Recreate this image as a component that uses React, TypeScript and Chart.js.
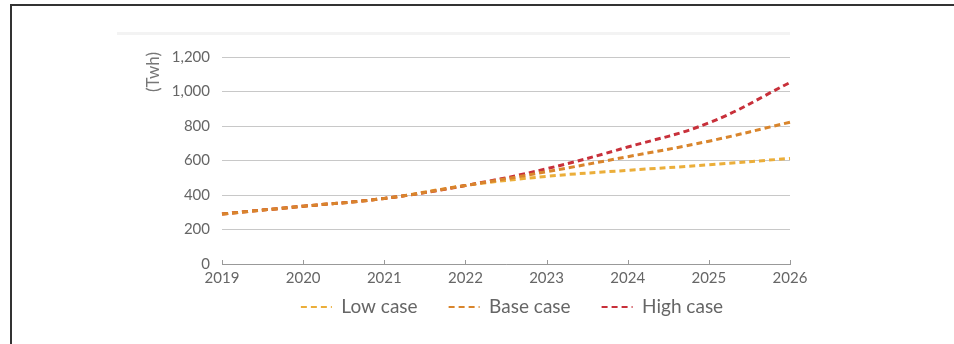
import React, { useEffect, useRef } from "react";
import { Chart, registerables } from "chart.js";

Chart.register(...registerables);

const years = ["2019", "2020", "2021", "2022", "2023", "2024", "2025", "2026"];
const lowCase = [290, 335, 380, 455, 508, 543, 575, 612];
const baseCase = [290, 335, 380, 455, 535, 622, 712, 822];
const highCase = [290, 335, 380, 455, 552, 678, 818, 1052];
const seriesNames = ["Low case", "Base case", "High case"];
const seriesColors = ["#EBAE3A", "#D9852C", "#C8303A"];
const seriesOrder = [2, 0, 1];
const yTitle = "(Twh)";

const FONT = "Lato, 'Noto Sans', sans-serif";
const LEGEND_PAD = 31;
const LEGEND_FONT = 19;

const extrasPlugin = {
  id: "extras",
  afterLayout(chart: any) {
    const lg = chart.legend;
    if (lg) {
      const top = 307 - LEGEND_PAD - LEGEND_FONT / 2;
      const h = LEGEND_PAD * 2 + LEGEND_FONT;
      lg.top = top;
      lg.height = h;
      lg.bottom = top + h;
      lg.left += 6;
      lg.right += 6;
    }
  },
  beforeDraw(chart: any) {
    const ctx = chart.ctx;
    const area = chart.chartArea;
    ctx.save();
    ctx.fillStyle = "#f3f3f3";
    ctx.fillRect(117, 32, area.right - 117, 3);
    ctx.restore();
  },
  afterDraw(chart: any) {
    const ctx = chart.ctx;
    const x = chart.scales.x;
    const y = chart.scales.y;
    ctx.save();
    ctx.strokeStyle = "#999";
    ctx.lineWidth = 1;
    const y0 = y.getPixelForValue(0);
    for (let i = 0; i < years.length; i++) {
      const px = Math.round(x.getPixelForValue(i)) + 0.5;
      ctx.beginPath();
      ctx.moveTo(px, y0);
      ctx.lineTo(px, y0 - 4);
      ctx.stroke();
    }
    ctx.translate(154, 72);
    ctx.rotate(-Math.PI / 2);
    ctx.fillStyle = "#777";
    ctx.font = "17px " + FONT;
    ctx.textAlign = "center";
    ctx.textBaseline = "middle";
    ctx.fillText(yTitle, 0, 0);
    ctx.restore();
  },
};

export default function App() {
  const ref = useRef<HTMLCanvasElement | null>(null);
  useEffect(() => {
    if (!ref.current) return;
    const data = [lowCase, baseCase, highCase];
    const chart = new Chart(ref.current, {
      type: "line",
      data: {
        labels: years,
        datasets: data.map((d, i) => ({
          label: seriesNames[i],
          data: d,
          borderColor: seriesColors[i],
          backgroundColor: seriesColors[i],
          borderWidth: 3,
          borderDash: [6, 4],
          pointRadius: 0,
          tension: 0.4,
          fill: false,
          order: seriesOrder[i],
        })),
      },
      options: {
        animation: false,
        responsive: false,
        layout: { padding: { top: 57, right: 164, bottom: 19, left: 0 } },
        plugins: {
          tooltip: { enabled: false },
          legend: {
            position: "bottom",
            fullSize: false,
            maxHeight: 36,
            labels: {
              sort: (a: any, b: any) => a.datasetIndex - b.datasetIndex,
              usePointStyle: true,
              pointStyle: "line",
              pointStyleWidth: 31,
              boxHeight: 16,
              padding: LEGEND_PAD,
              color: "#666",
              font: { family: FONT, size: LEGEND_FONT },
              generateLabels: () =>
                seriesNames.map((n, i) => ({
                  text: n,
                  datasetIndex: i,
                  fillStyle: seriesColors[i],
                  strokeStyle: seriesColors[i],
                  lineWidth: 2,
                  lineDash: [6, 4],
                  pointStyle: "line",
                  fontColor: "#666",
                  hidden: false,
                })),
            },
          },
        },
        scales: {
          x: {
            type: "category",
            offset: false,
            afterFit: (s: any) => {
              s.height = 25;
            },
            grid: { display: false, drawTicks: false },
            border: { display: true, color: "#999", width: 1 },
            ticks: {
              color: "#666",
              padding: 5,
              maxRotation: 0,
              autoSkip: false,
              font: { family: FONT, size: 15 },
            },
          },
          y: {
            min: 0,
            max: 1200,
            afterFit: (s: any) => {
              s.width = 222;
            },
            grid: { color: "#c8c8c8", drawTicks: false, lineWidth: 1 },
            border: { display: false },
            ticks: {
              stepSize: 200,
              color: "#666",
              padding: 12,
              font: { family: FONT, size: 15 },
              callback: (v: any) => Number(v).toLocaleString("en-US"),
            },
          },
        },
      },
      plugins: [extrasPlugin],
    } as any);
    return () => chart.destroy();
  }, []);
  return (
    <div style={{ position: "fixed", left: 0, top: 0, width: 954, height: 344, background: "#fff", overflow: "hidden" }}>
      <canvas ref={ref} width={954} height={344} style={{ position: "absolute", left: 0, top: 0 }} />
      <div
        style={{
          position: "absolute",
          left: 10,
          top: 4,
          width: 1000,
          height: 400,
          borderTop: "2px solid #333",
          borderLeft: "2px solid #333",
          pointerEvents: "none",
        }}
      />
    </div>
  );
}
